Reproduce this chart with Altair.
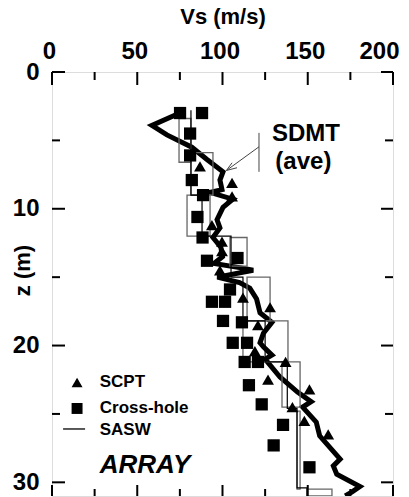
import altair as alt
import pandas as pd

# ---- data ----
sdmt_vs = [75, 58.6, 67.4, 82, 90.9, 100.3, 98.5, 99.7, 92.7, 106, 100.3, 96.8, 98.5, 94.4, 99, 100, 95, 110, 118, 97, 110, 116, 120, 122, 129, 124, 122, 124, 129, 125, 133.7, 144, 152, 147, 155, 157, 169, 165, 167, 180.6, 176, 172]
sdmt_z = [3.0, 3.9, 4.6, 5.5, 6.4, 7.3, 7.9, 8.6, 8.8, 9.3, 9.9, 10.8, 11.4, 12.1, 12.8, 13.5, 14.0, 14.3, 14.5, 15.0, 15.4, 15.8, 16.6, 17.6, 18.3, 19.1, 19.8, 20.1, 20.7, 21.0, 22.3, 23.4, 24.1, 24.5, 25.6, 26.6, 28.3, 28.8, 29.4, 30.3, 30.7, 31.0]

scpt_vs = [86.8, 105.6, 105.6, 93.8, 99.7, 99.7, 98.5, 112, 127.9, 120.8, 119, 137, 126.7, 151, 141, 148, 162]
scpt_z = [6.9, 8.1, 9.1, 11.2, 12.4, 13.1, 14.5, 16.5, 17.2, 18.5, 20.4, 21.2, 22.5, 23.2, 24.5, 25.5, 26.5]

xh_vs = [75.1, 88, 81, 81, 82, 88.6, 85.3, 88.3, 90.9, 108.8, 104.4, 93.8, 101.5, 100.3, 111.4, 106, 114.4, 113, 120.8, 115.5, 123, 135.5, 130, 151]
xh_z = [3.0, 3.0, 4.5, 6.1, 7.9, 9.0, 10.6, 12.1, 13.8, 13.6, 15.9, 16.8, 16.8, 18.2, 18.3, 19.8, 19.8, 21.2, 21.2, 22.9, 24.3, 25.8, 27.3, 28.9]

# SASW layer boxes: top depth, bottom depth, low Vs, high Vs
box_top = [3.4, 5.9, 9.0, 12.1, 15.0, 18.2, 21.2, 24.8, 30.5]
box_bot = [6.6, 9.0, 12.0, 14.2, 18.2, 21.2, 24.5, 30.5, 31.0]
box_lo = [74.5, 81.5, 79.2, 104.4, 114.4, 112.0, 134.9, 143.7, 149.6]
box_hi = [81.5, 94.4, 92.7, 114.4, 127.9, 138.4, 145.5, 145.5, 164.2]

# SASW step profile: Vs per layer with layer top/bottom
step_vs = [81.5, 88, 105, 112, 125, 138, 143.7, 149.6]
step_top = [2.8, 9.0, 12.0, 15.0, 18.2, 21.2, 24.6, 30.4]
step_bot = [9.0, 12.0, 15.0, 18.2, 21.2, 24.6, 30.4, 31.0]

x_major = [0, 50, 100, 150, 200]
x_minor = [25, 75, 125, 175]
y_major = [0, 10, 20, 30]
y_minor = [5, 15, 25]

W, H = 341, 424
XD = [0, 200]
YD = [0, 31]
FONT = "Liberation Sans"

xs = alt.Scale(domain=XD, nice=False, zero=False)
ys = alt.Scale(domain=YD, reverse=True, nice=False, zero=False)

sdmt = pd.DataFrame({"vs": sdmt_vs, "z": sdmt_z, "i": range(len(sdmt_vs))})
scpt = pd.DataFrame({"vs": scpt_vs, "z": scpt_z})
xh = pd.DataFrame({"vs": xh_vs, "z": xh_z})
boxes = pd.DataFrame({"t": box_top, "b": box_bot, "lo": box_lo, "hi": box_hi})
pts = []
for k, (v, t, b) in enumerate(zip(step_vs, step_top, step_bot)):
    pts.append({"vs": v, "z": t, "i": 2 * k})
    pts.append({"vs": v, "z": b, "i": 2 * k + 1})
step = pd.DataFrame(pts)

base_x = alt.X("vs:Q", scale=xs, title="Vs (m/s)",
               axis=alt.Axis(orient="top", values=x_major, ticks=False, tickSize=0, domain=False,
                             grid=False, labelPadding=9, labelFontSize=24, labelFont=FONT,
                             labelFontWeight="bold", labelColor="black", titleFont=FONT,
                             titleFontSize=22, titleFontWeight="bold", titleColor="black",
                             titlePadding=11, labelFlush=False,
                             labelOffset=alt.ExprRef(expr="datum.value == 200 ? -14 : -3")))
base_y = alt.Y("z:Q", scale=ys, title="z (m)",
               axis=alt.Axis(orient="left", values=y_major, ticks=False, tickSize=0, domain=False,
                             grid=False, labelPadding=13, labelFontSize=24, labelFont=FONT,
                             labelFontWeight="bold", labelColor="black", titleFont=FONT,
                             titleFontSize=22, titleFontWeight="bold", titleColor="black",
                             titleAngle=270, titleX=-30, titleY=198, titleAlign="center",
                             titleBaseline="middle", labelFlush=False))

rects = alt.Chart(boxes).mark_rect(filled=False, stroke="#666666", strokeWidth=1.3, clip=True).encode(
    x=alt.X("lo:Q", scale=xs), x2="hi:Q", y=alt.Y("t:Q", scale=ys), y2="b:Q")

stepline = alt.Chart(step).mark_line(color="black", strokeWidth=1.2, clip=True).encode(
    x=alt.X("vs:Q", scale=xs), y=alt.Y("z:Q", scale=ys), order="i:Q")

sdmt_line = alt.Chart(sdmt).mark_line(color="black", strokeWidth=5, clip=True, strokeJoin="miter").encode(
    x=base_x, y=base_y, order="i:Q")

sq = alt.Chart(xh).mark_point(shape="square", filled=True, color="black", size=150, opacity=1, clip=True).encode(
    x=alt.X("vs:Q", scale=xs), y=alt.Y("z:Q", scale=ys))

tri = alt.Chart(scpt).mark_point(shape="triangle-up", filled=True, color="black", size=140, opacity=1, clip=True).encode(
    x=alt.X("vs:Q", scale=xs), y=alt.Y("z:Q", scale=ys))

# ticks (inward)
def vticks(vals, length, top=True):
    df = pd.DataFrame({"v": vals})
    y0 = 0 if top else H
    y1 = length if top else H - length
    return alt.Chart(df).mark_rule(color="black", strokeWidth=2).encode(
        x=alt.X("v:Q", scale=xs), y=alt.value(y0), y2=alt.value(y1))

def hticks(vals, length, left=True):
    df = pd.DataFrame({"v": vals})
    x0 = 0 if left else W
    x1 = length if left else W - length
    return alt.Chart(df).mark_rule(color="black", strokeWidth=2).encode(
        y=alt.Y("v:Q", scale=ys), x=alt.value(x0), x2=alt.value(x1))

ticks = [vticks(x_major, 13), vticks(x_minor, 8), vticks(x_major, 11, top=False), vticks(x_minor, 7, top=False),
         hticks(y_major, 13), hticks(y_minor, 8), hticks(y_major, 12, left=False), hticks(y_minor, 8, left=False)]

# legend (inside plot)
leg_sym = pd.DataFrame({"vs": [14.7], "z": [22.7]})
leg_sq = pd.DataFrame({"vs": [14.7], "z": [24.6]})
leg_line = pd.DataFrame({"a": [6.5], "b": [19.4], "z": [26.1]})
leg_txt = pd.DataFrame({"vs": [28, 28, 28], "z": [22.7, 24.6, 26.2], "t": ["SCPT", "Cross-hole", "SASW"]})
leg_title = pd.DataFrame({"vs": [28], "z": [28.7], "t": ["ARRAY"]})

legend = [
    alt.Chart(leg_sym).mark_point(shape="triangle-up", filled=True, color="black", size=120, opacity=1).encode(
        x=alt.X("vs:Q", scale=xs), y=alt.Y("z:Q", scale=ys)),
    alt.Chart(leg_sq).mark_point(shape="square", filled=True, color="black", size=120, opacity=1).encode(
        x=alt.X("vs:Q", scale=xs), y=alt.Y("z:Q", scale=ys)),
    alt.Chart(leg_line).mark_rule(color="black", strokeWidth=1.3).encode(
        x=alt.X("a:Q", scale=xs), x2="b:Q", y=alt.Y("z:Q", scale=ys)),
    alt.Chart(leg_txt).mark_text(align="left", baseline="middle", font=FONT, fontSize=17, fontWeight="bold").encode(
        x=alt.X("vs:Q", scale=xs), y=alt.Y("z:Q", scale=ys), text="t:N"),
    alt.Chart(leg_title).mark_text(align="left", baseline="middle", font=FONT, fontSize=26, fontWeight="bold",
                                   fontStyle="italic").encode(
        x=alt.X("vs:Q", scale=xs), y=alt.Y("z:Q", scale=ys), text="t:N"),
]

# annotation
ann_txt = pd.DataFrame({"vs": [129, 131], "z": [4.5, 6.6], "t": ["SDMT", "(ave)"]})
ann_vline = pd.DataFrame({"x": [121.4], "a": [4.45], "b": [7.3]})
ann_arrow = pd.DataFrame({"x1": [121.4, 102.3, 102.3], "y1": [5.47, 7.2, 7.2],
                          "x2": [102.3, 105.6, 108.5], "y2": [7.2, 6.64, 7.0]})
annot = [
    alt.Chart(ann_txt).mark_text(align="left", baseline="middle", font=FONT, fontSize=24, fontWeight="bold").encode(
        x=alt.X("vs:Q", scale=xs), y=alt.Y("z:Q", scale=ys), text="t:N"),
    alt.Chart(ann_vline).mark_rule(color="#444444", strokeWidth=1).encode(
        x=alt.X("x:Q", scale=xs), y=alt.Y("a:Q", scale=ys), y2="b:Q"),
    alt.Chart(ann_arrow).mark_rule(color="#444444", strokeWidth=1).encode(
        x=alt.X("x1:Q", scale=xs), y=alt.Y("y1:Q", scale=ys), x2="x2:Q", y2="y2:Q"),
]

chart = alt.layer(sdmt_line, rects, stepline, sq, tri, *ticks, *legend, *annot).properties(
    width=W, height=H,
    autosize=alt.AutoSizeParams(type="none"),
    padding={"left": 52, "top": 72, "right": 16, "bottom": 1},
).configure_view(stroke="black", strokeWidth=3).configure(background="white")

chart.save("out.html", embed_options={"renderer": "svg", "actions": False})
